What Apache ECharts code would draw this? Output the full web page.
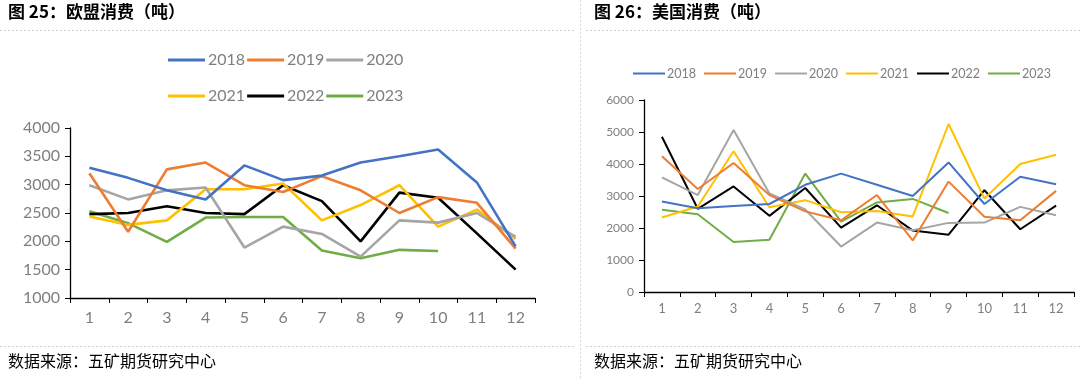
<!DOCTYPE html>
<html><head><meta charset="utf-8">
<script src="https://cdn.jsdelivr.net/npm/echarts@6/dist/echarts.min.js"></script>
<style>html,body{margin:0;padding:0;background:#fff}#c{width:1080px;height:380px}</style>
</head><body><div id="c"></div>
<script>
const months = ['1','2','3','4','5','6','7','8','9','10','11','12'];
const years = ['2018','2019','2020','2021','2022','2023'];
const colors = ['#4472C4','#ED7D31','#A5A5A5','#FFC000','#000000','#70AD47'];
const titleEU = '图 25：欧盟消费（吨）';
const titleUS = '图 26：美国消费（吨）';
const sourceText = '数据来源：五矿期货研究中心';

// EU consumption (tonnes)
const eu2018 = [3300,3120,2900,2740,3340,3080,3160,3390,3500,3620,3040,1910];
const eu2019 = [3200,2170,3270,3390,2990,2870,3150,2900,2500,2780,2680,1870];
const eu2020 = [2990,2740,2900,2950,1890,2260,2130,1730,2370,2330,2500,2080];
const eu2021 = [2440,2290,2370,2920,2920,3020,2370,2640,2990,2260,2560,2040];
const eu2022 = [2480,2500,2620,2500,2480,2990,2710,2000,2860,2770,2140,1500];
const eu2023 = [2530,2320,1990,2420,2430,2430,1840,1700,1850,1830,null,null];

// US consumption (tonnes)
const us2018 = [2830,2620,2690,2750,3350,3700,3350,3000,4050,2750,3600,3370];
const us2019 = [4240,3220,4030,3030,2520,2240,3030,1610,3450,2350,2240,3160];
const us2020 = [3580,3030,5060,3080,2580,1420,2170,1930,2160,2170,2660,2400];
const us2021 = [2330,2670,4400,2650,2870,2490,2530,2360,5250,2920,4000,4290];
const us2022 = [4850,2600,3300,2380,3250,2010,2710,1920,1790,3180,1960,2700];
const us2023 = [2570,2430,1560,1630,3700,2200,2800,2910,2470,null,null,null];

const euTicks = {min:1000, max:4000, interval:500};
const usTicks = {min:0, max:6000, interval:1000};

const euData = [eu2018,eu2019,eu2020,eu2021,eu2022,eu2023];
const usData = [us2018,us2019,us2020,us2021,us2022,us2023];

const axisFont = 'Lato, "Noto Sans", sans-serif';
const cjk = '"Noto Sans CJK SC", sans-serif';

const series = [];
years.forEach((y,i)=>{
  series.push({name:y, type:'line', xAxisIndex:0, yAxisIndex:0, data:euData[i], symbol:'none',
    lineStyle:{width:2.6, color:colors[i]}, itemStyle:{color:colors[i]}, z: 10-i, animation:false});
});
years.forEach((y,i)=>{
  series.push({name:y, type:'line', xAxisIndex:1, yAxisIndex:1, data:usData[i], symbol:'none',
    lineStyle:{width:2, color:colors[i]}, itemStyle:{color:colors[i]}, z: 10-i, animation:false});
});

function xAxisCfg(gi, fs){
  return {type:'category', gridIndex:gi, data:months, boundaryGap:true,
    axisLine:{lineStyle:{color:'#000', width:1.3}},
    axisTick:{show:true, alignWithLabel:false, length:5, lineStyle:{color:'#000'}},
    axisLabel:{color:'#7f7f7f', fontSize:fs, fontFamily:axisFont, margin: fs>14?12:10}};
}
function yAxisCfg(gi, t, fs){
  return {type:'value', gridIndex:gi, min:t.min, max:t.max, interval:t.interval,
    axisLine:{show:true, lineStyle:{color:'#000', width:1.3}},
    axisTick:{show:true, length:5, inside:false, lineStyle:{color:'#000'}},
    splitLine:{show:false},
    axisLabel:{color:'#7f7f7f', fontSize:fs, fontFamily:axisFont, margin:10, formatter:(v)=>String(v)}};
}

const option = {
  animation:false,
  color: colors,
  grid:[
    {left:70, right:545, top:128, bottom:82},
    {left:644, right:6, top:100, bottom:88}
  ],
  xAxis:[xAxisCfg(0,16), xAxisCfg(1,13)],
  yAxis:[yAxisCfg(0,euTicks,16), yAxisCfg(1,usTicks,12)],
  legend:[
    {data:years.slice(0,3), left:163, top:47, icon:'rect', itemWidth:37, itemHeight:3, itemGap:2,
      textStyle:{color:'#7f7f7f', fontSize:16, fontFamily:axisFont, padding:[0,0,0,-2]}},
    {data:years.slice(3,6), left:163, top:83, icon:'rect', itemWidth:37, itemHeight:3, itemGap:2,
      textStyle:{color:'#7f7f7f', fontSize:16, fontFamily:axisFont, padding:[0,0,0,-2]}},
    {data:years, left:628, top:62, icon:'rect', itemWidth:32, itemHeight:2, itemGap:8,
      textStyle:{color:'#7f7f7f', fontSize:12.5, fontFamily:axisFont, padding:[0,0,0,-3]}}
  ],
  graphic:[
    {type:'text', left:8, top:3, style:{text:titleEU, font:'bold 17px '+cjk, fill:'#000'}},
    {type:'text', left:594, top:3, style:{text:titleUS, font:'bold 17px '+cjk, fill:'#000'}},
    {type:'line', shape:{x1:0,y1:30.5,x2:574,y2:30.5}, style:{stroke:'#d0d0d0', lineWidth:1, lineDash:[2,2]}},
    {type:'line', shape:{x1:586,y1:30.5,x2:1080,y2:30.5}, style:{stroke:'#d0d0d0', lineWidth:1, lineDash:[2,2]}},
    {type:'line', shape:{x1:0,y1:346.5,x2:574,y2:346.5}, style:{stroke:'#d0d0d0', lineWidth:1, lineDash:[2,2]}},
    {type:'line', shape:{x1:586,y1:346.5,x2:1080,y2:346.5}, style:{stroke:'#d0d0d0', lineWidth:1, lineDash:[2,2]}},
    {type:'line', shape:{x1:580.5,y1:0,x2:580.5,y2:380}, style:{stroke:'#d8d8d8', lineWidth:1, lineDash:[2,2]}},
    {type:'text', left:8, top:353, style:{text:sourceText, font:'16px '+cjk, fill:'#000'}},
    {type:'text', left:594, top:353, style:{text:sourceText, font:'16px '+cjk, fill:'#000'}}
  ],
  series: series
};
const chart = echarts.init(document.getElementById('c'), null, {renderer:'canvas'});
chart.setOption(option);
</script>
</body></html>
